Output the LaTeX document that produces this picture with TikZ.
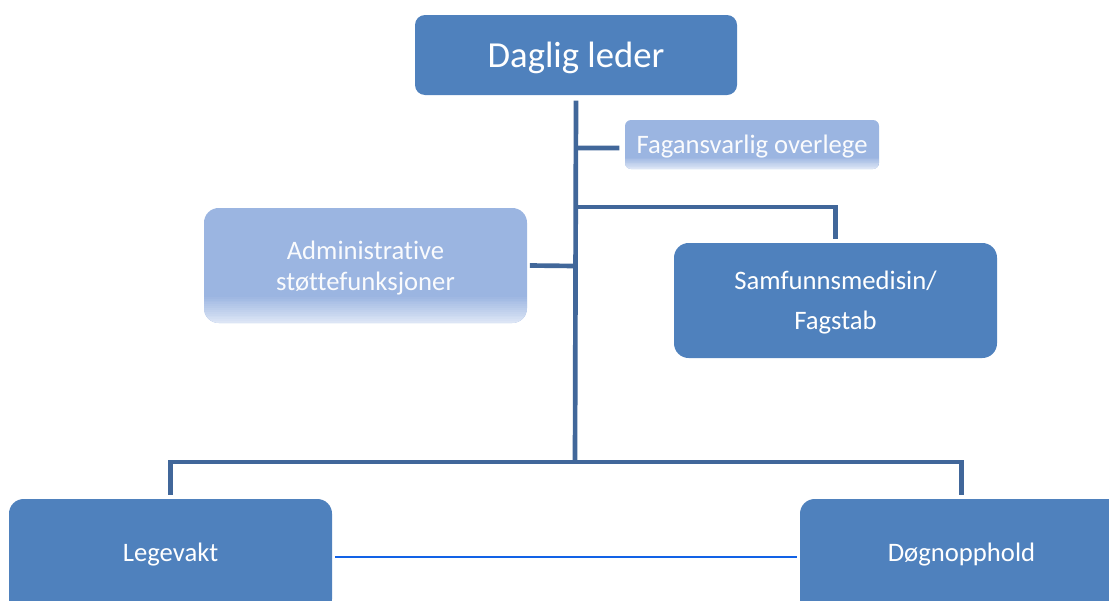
\documentclass[tikz,border=0pt]{standalone}
\usepackage{fontspec}
\setmainfont{Carlito}[Ligatures=NoCommon]
\definecolor{boxblue}{HTML}{4F81BD}
\definecolor{lightblue}{HTML}{9BB5E1}
\definecolor{fadeblue}{HTML}{DCE5F5}
\definecolor{linkblue}{HTML}{41679A}
\definecolor{thinblue}{HTML}{1262E6}
\begin{document}
\begin{tikzpicture}[x=0.75pt, y=-0.75pt]
        % Define styles for boxes and lines
        \tikzset{
            unit/.style={fill=boxblue, text=white, rounded corners=11pt, inner sep=0pt, text depth=0pt,
                minimum width=242.25pt, minimum height=86.25pt, font=\fontsize{20}{23}\selectfont, align=center},
            fade/.style={path picture={
                \foreach \k [evaluate=\k as \p using int(100-\k*100/14)] in {0,...,14}
                    \fill[sharp corners, fadeblue!\p!lightblue]
                        ([yshift=\k*#1/15]path picture bounding box.south west) rectangle
                        ([yshift=(\k+1.2)*#1/15]path picture bounding box.south east);}},
            staff/.style={unit, fill=lightblue, text=white!95!lightblue, fade=21pt},
            link/.style={draw=linkblue, line width=3.5pt},
            side/.style={draw=thinblue, line width=1.5pt}
        }
        \clip (0,0) rectangle (1109,600);
        \useasboundingbox (0,0) rectangle (1109,600);
        % Draw boxes
        \node[unit, minimum width=241.5pt, minimum height=60pt, rounded corners=7.5pt,
            font=\fontsize{27.5}{30}\selectfont] (leder) at (576, 55) {Daglig leder};
        \node[staff, minimum width=190.5pt, minimum height=36.75pt, rounded corners=4.5pt, fade=9pt]
            (fagans) at (752, 144.5) {Fagansvarlig overlege};
        \node[staff] (admin) at (365.5, 265.5) {Administrative\\støttefunksjoner};
        \node[unit, font=\fontsize{20}{30}\selectfont] (samf) at (835.5, 300.5) {Samfunnsmedisin/\\Fagstab};
        \node[unit, text depth=6.75pt] (legevakt) at (170.5, 556.5) {Legevakt};
        \node[unit, text depth=6.75pt] (dogn) at (961.5, 556.5) {Døgnopphold};
        % Draw lines
        \coordinate (trunk) at (575, 0);
        \coordinate (bar) at (575, 462);
        \draw[link] ([yshift=-4pt]leder.south) -- (bar);
        \draw[link] (trunk |- 0,148) -- ([xshift=-4pt, yshift=-2.6pt]fagans.west);
        \draw[link] (trunk |- 0,207) -| ([yshift=3pt]samf.north);
        \draw[link] (trunk |- 0,266) -- ([xshift=2pt]admin.east);
        \draw[link] ([yshift=3pt]legevakt.north) |- (bar) -| ([yshift=3pt]dogn.north);
        \draw[side] ([xshift=2pt]legevakt.east) -- ([xshift=-2pt]dogn.west);
    \end{tikzpicture}
\end{document}
